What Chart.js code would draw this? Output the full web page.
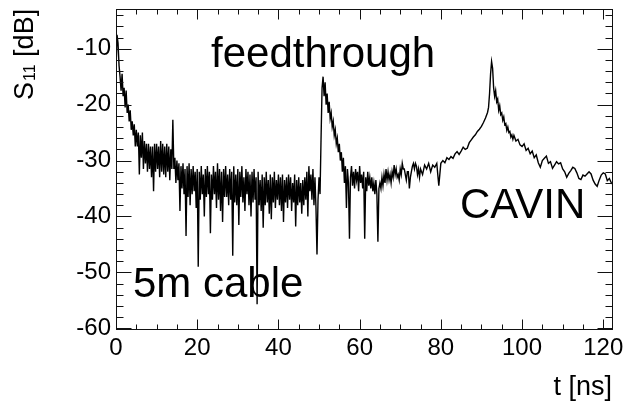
<!DOCTYPE html>
<html>
<head>
<meta charset="utf-8">
<script src="https://cdn.jsdelivr.net/npm/chart.js@4.4.1/dist/chart.umd.min.js"></script>
<style>
html,body{margin:0;padding:0;background:#fff;}
canvas{display:block;}
</style>
</head>
<body>
<canvas id="c" width="625" height="402"></canvas>
<script>
// ---- data ----
const xTicks = [0, 20, 40, 60, 80, 100, 120];
const yTicks = [-60, -50, -40, -30, -20, -10];
const xRange = [0, 122.4];
const yRange = [-60.3, -2.9];

// S11 [dB], sampled every 0.25 ns from t = 0 to 74.75 ns
const fineStep = 0.25;
const fineS11 = [
 -14,-7.5,-9,-13,   -15,-17.5,-14.5,-18.5,   -17,-20.5,-17.5,-21.5,   -20,-23,-21,-24.5,
 -23,-25.5,-23.5,-27.5, -24.5,-27.5,-25,-32.5, -25.5,-29.5,-25,-31.5, -26.5,-30.5,-27,-32,
 -27,-31.5,-27.5,-33, -27.5,-35.5,-27,-32, -27,-31.5,-27.5,-33, -26.5,-32,-27,-32.5,
 -27.5,-33,-27,-32, -27.5,-33.5,-28,-31.5,
 -22.7,-31.5,-29.5,-34, -30,-33.5,-30.5,-39, -31,-35,-30.5,-36, -31.5,-43.5,-31,-36.5,
 -30.5,-38,-31.5,-36, -31,-35.5,-32,-38.5, -31.5,-49,-32,-37, -31,-36,-32.5,-40,
 -31.5,-36.5,-31,-36, -32,-43,-32.5,-37, -31,-36,-32,-38.5, -30.5,-37,-31.5,-39,
 -32,-41,-31.5,-36.5, -31,-36.5,-32.5,-38, -31.5,-37,-32,-47, -31,-37.5,-32.5,-38,
 -31.5,-41.5,-32,-36.5, -31,-37.5,-33,-39, -31.5,-36,-32,-38, -32.5,-40,-32,-37.5,
 -31.5,-37,-33,-55.7, -32,-38,-33.5,-39, -32.5,-42,-33,-38, -32,-37.5,-33.5,-39.5,
 -32.5,-40.5,-33,-37.5, -32,-38.5,-33.5,-37, -32.5,-38,-33,-39, -32.5,-41,-33.5,-37.5,
 -33,-38.5,-32.5,-37, -33,-39,-34,-37.5, -32.5,-41.8,-33.5,-38, -33,-37.5,-34,-39.5,
 -33.5,-38,-33,-37, -32,-40,-31,-35.5, -32.5,-37,-31.5,-38, -33,-38.5,-46.8,-37,
 -33,-36,-26,-17, -15,-18.5,-16,-20,
 -18,-21.5,-19.5,-22.5, -21.5,-24,-23,-25.5, -24.5,-27,-26,-28.5, -27,-30,-28.5,-32,
 -29.5,-34,-31,-38.5, -31.5,-34,-44,-33, -31,-34.5,-32,-35, -31.5,-33.5,-32,-35.5,
 -31,-34,-32.5,-35, -32,-44,-33,-35.5, -32,-34.5,-33,-35, -33,-35.5,-34,-36,
 -33.5,-36,-44.5,-35, -34,-35,-33,-34.5, -32.5,-34,-31.5,-33.5, -32,-33.5,-32.5,-34,
 -32,-33,-30.8,-32.5, -31.5,-33,-32.5,-33.5, -31.5,-32.5,-30.5,-31.5, -31.5,-32.5,-33.5,-32,
 -32,-35,-33,-32, -31,-30.5,-31.5,-30.5, -31,-32.5,-31.5,-33
];

// tail of the trace, t [ns] and S11 [dB]
const tailTimes = [
 75,75.5,76,76.5,77,77.5,78,78.5,79,79.5,80,80.5,81,81.5,82,82.5,83,83.5,84,84.5,
 85,85.5,86,86.5,87,87.5,88,88.5,89,89.5,90,90.5,91,91.5,
 91.75,92,92.25,92.5,92.75,93,93.25,93.5,93.75,94,94.25,94.5,94.75,95,95.25,95.5,
 95.75,96,96.25,96.5,96.75,97,97.25,97.5,97.75,98,98.5,99,99.5,
 100,100.5,101,101.5,102,102.5,103,103.5,104,104.5,105,105.5,106,106.5,107,107.5,
 108,108.5,109,109.5,110,110.5,111,111.5,112,112.5,113,113.5,114,114.5,115,115.5,
 116,116.5,117,117.5,118,118.5,119,119.5,120,120.5,121,121.5,122,122.4
];
const tailS11 = [
 -31.5,-32.5,-30.8,-31.5,-30.5,-32,-30.8,-31.2,-30.5,-34.5,-30.5,-30,-30.4,-29.5,-29.8,-29.3,-29.6,-28.8,-28.4,-28.9,
 -28.3,-27.6,-28,-27.8,-26.8,-26.3,-25.8,-25.4,-24.8,-24.4,-23.9,-23.2,-22.4,-21.4,
 -20.5,-18,-14.5,-12.3,-13.5,-17,-18.5,-17.5,-19.5,-19,-21,-20.2,-21.8,-21.5,-22.8,-22.2,
 -23.6,-23.4,-24.6,-24,-25,-24.8,-25.8,-25.4,-26.2,-25.5,-26.5,-26.2,-27.2,
 -27.5,-27,-28.2,-27.8,-28.8,-28.3,-29.5,-29,-30.4,-31.2,-30,-29.6,-29.2,-30.5,-30.2,-31.4,
 -30.8,-30.2,-30.6,-30.4,-31.5,-32,-33,-32.3,-31.8,-31.2,-31.4,-32.2,-33.2,-33.4,-32.6,-32.8,
 -32.4,-32,-32.4,-33.5,-34.2,-34.6,-33.5,-32.6,-32.2,-32.4,-33.6,-33.2,-34,-34.3
];

const annotations = [
  {text: 'feedthrough', x: 211, y: 67},
  {text: 'CAVIN', x: 460, y: 218},
  {text: '5m cable', x: 133, y: 297}
];

// ---- build points ----
const points = [];
fineS11.forEach((v, i) => points.push({x: i * fineStep, y: v}));
tailTimes.forEach((t, i) => points.push({x: t, y: tailS11[i]}));

const FONT = '"Liberation Sans", Arial, Helvetica, sans-serif';

const frameTicks = {
  id: 'frameTicks',
  afterDraw(chart) {
    const {ctx, chartArea: a, scales: {x, y}} = chart;
    ctx.save();
    ctx.strokeStyle = '#111';
    ctx.lineWidth = 1;
    const L = Math.round(a.left) + 0.5, R = Math.round(a.right) - 0.5;
    const T = Math.round(a.top) + 0.5, B = Math.round(a.bottom) - 0.5;
    ctx.strokeRect(L, T, R - L, B - T);
    ctx.beginPath();
    for (let v = 0; v <= xRange[1]; v += 5) {
      const px = Math.round(x.getPixelForValue(v)) + 0.5;
      const len = (v % 20 === 0) ? 10 : 5;
      ctx.moveTo(px, B); ctx.lineTo(px, B - len);
      ctx.moveTo(px, T); ctx.lineTo(px, T + len);
    }
    for (let v = -60; v <= yRange[1]; v += 2) {
      const py = Math.round(y.getPixelForValue(v)) + 0.5;
      const len = (v % 10 === 0) ? 15 : 7;
      ctx.moveTo(L, py); ctx.lineTo(L + len, py);
      ctx.moveTo(R, py); ctx.lineTo(R - len, py);
    }
    ctx.stroke();

    ctx.fillStyle = '#000';
    ctx.textBaseline = 'alphabetic';
    ctx.textAlign = 'left';
    ctx.font = '42px ' + FONT;
    annotations.forEach(an => ctx.fillText(an.text, an.x, an.y));

    // x axis title
    ctx.font = '27px ' + FONT;
    ctx.textAlign = 'right';
    ctx.fillText('t [ns]', 612, 395);

    // y axis title (rotated) S_11 [dB]
    ctx.save();
    ctx.translate(33, 100);
    ctx.rotate(-Math.PI / 2);
    ctx.textAlign = 'left';
    ctx.font = '27px ' + FONT;
    let cx = 0;
    ctx.fillText('S', cx, 0);
    cx += ctx.measureText('S').width;
    ctx.font = '16px ' + FONT;
    ctx.fillText('11', cx + 1, 2);
    cx += ctx.measureText('11').width + 1;
    ctx.font = '27px ' + FONT;
    ctx.fillText(' [dB]', cx, 0);
    ctx.restore();

    ctx.restore();
  }
};

function noPad(s) {
  s.paddingLeft = 0; s.paddingRight = 0; s.paddingTop = 0; s.paddingBottom = 0;
}

new Chart(document.getElementById('c'), {
  type: 'scatter',
  data: {
    datasets: [{
      data: points,
      showLine: true,
      borderColor: '#000',
      borderWidth: 1.4,
      pointRadius: 0,
      tension: 0,
      fill: false
    }]
  },
  options: {
    responsive: false,
    animation: false,
    devicePixelRatio: 1,
    layout: {padding: {top: 9, right: 12, left: 0, bottom: 0}},
    plugins: {legend: {display: false}, tooltip: {enabled: false}},
    scales: {
      x: {
        type: 'linear',
        min: xRange[0], max: xRange[1],
        grid: {display: false, drawTicks: false},
        border: {display: false},
        afterBuildTicks: s => { s.ticks = xTicks.map(v => ({value: v})); },
        afterFit: s => { s.height = 72; noPad(s); },
        ticks: {
          autoSkip: false, maxRotation: 0,
          color: '#000', font: {family: FONT, size: 24}, padding: 4
        }
      },
      y: {
        type: 'linear',
        min: yRange[0], max: yRange[1],
        grid: {display: false, drawTicks: false},
        border: {display: false},
        afterBuildTicks: s => { s.ticks = yTicks.map(v => ({value: v})); },
        afterFit: s => { s.width = 116; noPad(s); },
        ticks: {
          autoSkip: false,
          color: '#000', font: {family: FONT, size: 24}, padding: 5
        }
      }
    }
  },
  plugins: [frameTicks]
});
</script>
</body>
</html>
